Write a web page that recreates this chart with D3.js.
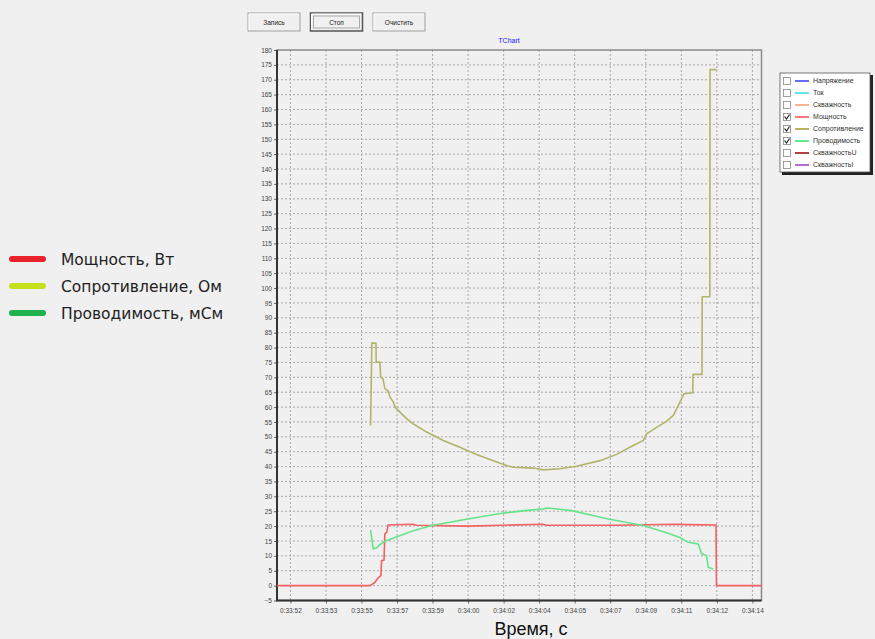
<!DOCTYPE html>
<html>
<head>
<meta charset="utf-8">
<script src="https://cdn.jsdelivr.net/npm/d3@7"></script>
<style>
    body { margin: 0; background: #f0f0f0; }
    svg { display: block; font-family: "Liberation Sans", Arial, sans-serif; }
</style>
</head>
<body>
<div id="chart"></div>
<script>
// data: time in seconds after 0:33:00
var xTickLabels = ["0:33:52", "0:33:53", "0:33:55", "0:33:57", "0:33:59", "0:34:00", "0:34:02",
    "0:34:04", "0:34:05", "0:34:07", "0:34:09", "0:34:11", "0:34:12", "0:34:14"];

var powerT = [51.55, 56.05, 56.29, 56.45, 56.58, 56.61, 56.73, 56.77, 56.86, 56.93, 58.13, 58.3, 60.79, 62.5, 64.42, 64.6, 68.0, 70.81, 71.44, 72.8, 72.82, 75.0];
var powerV = [0, 0, 1.1, 2.6, 3.4, 8.4, 8.6, 17.4, 17.9, 20.4, 20.6, 20.3, 20.0, 20.3, 20.6, 20.3, 20.3, 20.6, 20.5, 20.4, 0, 0];

var resistT = [56.08, 56.14, 56.34, 56.35, 56.53, 56.57, 56.68, 56.77, 56.92, 57.02, 57.18, 57.26, 57.5, 57.82, 58.14, 58.79, 59.6, 60.4, 61.21, 62.02, 62.66, 62.98, 63.95, 64.44, 65.24, 66.05, 67.18, 67.99, 68.79, 69.28, 69.44, 69.92, 70.41, 70.73, 71.05, 71.25, 71.67, 71.69, 72.12, 72.13, 72.5, 72.51, 72.83];
var resistV = [53.8, 81.5, 81.5, 75.1, 75.1, 70.1, 69.5, 66.2, 65.5, 63.3, 61.7, 60.0, 58.3, 56.1, 54.4, 51.6, 48.8, 46.5, 44.1, 42.0, 40.4, 39.8, 39.5, 38.9, 39.3, 40.1, 42.0, 44.1, 47.1, 48.8, 51.0, 53.2, 55.3, 57.2, 61.7, 64.5, 64.8, 71.0, 71.0, 97.1, 97.1, 173.4, 173.4];

var conductT = [56.08, 56.21, 56.37, 56.53, 56.77, 57.26, 58.07, 59.03, 60.65, 62.42, 63.55, 64.44, 64.68, 65.81, 67.58, 69.28, 70.33, 71.05, 71.45, 71.94, 72.1, 72.34, 72.42, 72.66];
var conductV = [18.7, 12.3, 12.7, 13.8, 14.9, 16.2, 18.3, 20.2, 22.2, 24.3, 25.2, 25.8, 26.1, 25.2, 22.4, 20.2, 17.9, 16.2, 14.6, 14.0, 10.7, 10.1, 6.2, 5.6];

var buttonLabels = ["Запись", "Стоп", "Очистить"];
var legendNames = ["Напряжение", "Ток", "Скважность", "Мощность", "Сопротивление", "Проводимость", "СкважностьU", "СкважностьI"];
var legendColors = ["#4646ff", "#3ee0e0", "#ffa276", "#ff5a5a", "#a3a33e", "#3ee07e", "#a01010", "#a848c8"];
var legendChecked = [false, false, false, true, true, true, false, false];

var sideNames = ["Мощность, Вт", "Сопротивление, Ом", "Проводимость, мСм"];
var sideColors = ["#e8212a", "#c3e01a", "#1fb14b"];

(function () {
    var width = 875, height = 639;
    var svg = d3.select("#chart").append("svg").attr("width", width).attr("height", height);

    // compute scales
    var left = 277, right = 761.5, top = 50, bottom = 600.5;
    var x = d3.scaleLinear().domain([51.55, 75.0]).range([left, right]);
    var y = d3.scaleLinear().domain([-5, 180]).range([bottom, top]);
    var xTicks = xTickLabels.map(function (d, i) { return 52.2 + i * 1.72; });
    var yTicks = d3.range(-5, 181, 5);

    // buttons
    var btn = svg.selectAll(".btn").data(buttonLabels).enter().append("g").attr("class", "btn").attr("transform", function (d, i) {
        return "translate(" + (248 + i * 62.5) + ",13)";
    });
    btn.append("rect").attr("width", 52).attr("height", 18).attr("fill", "#f0f0f0").attr("stroke", function (d, i) {
        return i === 1 ? "#555" : "#a0a0a0";
    }).attr("stroke-width", function (d, i) { return i === 1 ? 1.5 : 1; });
    btn.append("path").attr("d", "M1,17V1H51").attr("fill", "none").attr("stroke", "#fff");
    btn.filter(function (d, i) { return i === 1; }).append("rect").attr("x", 3).attr("y", 3).attr("width", 46).attr("height", 12)
        .attr("fill", "none").attr("stroke", "#999").attr("stroke-width", 0.8);
    btn.append("text").attr("x", 26).attr("y", 12).attr("text-anchor", "middle").attr("font-size", 6.5).attr("fill", "#222").text(String);

    // title
    svg.append("text").attr("x", 509).attr("y", 43).attr("text-anchor", "middle").attr("font-size", 7).attr("fill", "#2020ff").text("TChart");

    // grid
    svg.append("g").selectAll("line").data(yTicks.slice(1, -1)).enter().append("line")
        .attr("x1", left).attr("x2", right).attr("y1", y).attr("y2", y)
        .attr("stroke", "#a8a8a8").attr("stroke-dasharray", "2,2");
    svg.append("g").selectAll("line").data(xTicks).enter().append("line")
        .attr("x1", x).attr("x2", x).attr("y1", top).attr("y2", bottom)
        .attr("stroke", "#a8a8a8").attr("stroke-dasharray", "2,2");

    // axes
    var yAxis = svg.append("g").attr("transform", "translate(" + left + ",0)")
        .call(d3.axisLeft(y).tickValues(yTicks).tickSize(3).tickPadding(2));
    var xAxis = svg.append("g").attr("transform", "translate(0," + bottom + ")")
        .call(d3.axisBottom(x).tickValues(xTicks).tickSize(3).tickPadding(5).tickFormat(function (d, i) { return xTickLabels[i]; }));
    [yAxis, xAxis].forEach(function (a) {
        a.select(".domain").remove();
        a.selectAll("line").attr("stroke", "#666");
        a.selectAll("text").attr("font-size", 6.5).attr("fill", "#444").attr("font-family", "Liberation Sans, Arial, sans-serif");
    });

    // frame
    svg.append("rect").attr("x", left).attr("y", top).attr("width", right - left).attr("height", bottom - top)
        .attr("fill", "none").attr("stroke", "#8a8a8a").attr("stroke-width", 1.5);
    svg.append("path").attr("d", "M" + left + "," + top + "V" + bottom + "H" + right)
        .attr("fill", "none").attr("stroke", "#333").attr("stroke-width", 2);

    // series
    var line = d3.line().x(function (d) { return x(d[0]); }).y(function (d) { return y(d[1]); });
    var series = [
        { t: powerT, v: powerV, color: "#f46060" },
        { t: conductT, v: conductV, color: "#66e48a" },
        { t: resistT, v: resistV, color: "#b2b46a" }
    ];
    svg.append("g").selectAll("path").data(series).enter().append("path")
        .attr("d", function (s) { return line(d3.zip(s.t, s.v)); })
        .attr("fill", "none").attr("stroke", function (s) { return s.color; }).attr("stroke-width", 1.6);

    // chart legend
    var lg = svg.append("g").attr("transform", "translate(780,73)");
    lg.append("rect").attr("x", 2).attr("y", 2).attr("width", 91).attr("height", 100).attr("fill", "#222");
    lg.append("rect").attr("width", 90).attr("height", 99).attr("fill", "#fff").attr("stroke", "#555").attr("stroke-width", 0.8);
    var item = lg.selectAll(".item").data(legendNames).enter().append("g").attr("class", "item").attr("transform", function (d, i) {
        return "translate(0," + (8 + i * 12) + ")";
    });
    item.append("rect").attr("x", 3.5).attr("y", -3.5).attr("width", 7).attr("height", 7).attr("fill", "#fff").attr("stroke", "#888").attr("stroke-width", 0.8);
    item.filter(function (d, i) { return legendChecked[i]; }).append("path").attr("d", "M4.5,-0.5L6.5,2L9.5,-2.5")
        .attr("fill", "none").attr("stroke", "#222").attr("stroke-width", 1.2);
    item.append("line").attr("x1", 15).attr("x2", 29).attr("stroke", function (d, i) { return legendColors[i]; }).attr("stroke-width", 1.6);
    item.append("text").attr("x", 33).attr("y", 2.4).attr("font-size", 7).attr("fill", "#333").text(String);

    // side legend
    var side = svg.selectAll(".side").data(sideNames).enter().append("g").attr("class", "side").attr("transform", function (d, i) {
        return "translate(0," + (259 + i * 27) + ")";
    });
    side.append("line").attr("x1", 12).attr("x2", 43).attr("stroke", function (d, i) { return sideColors[i]; })
        .attr("stroke-width", 6).attr("stroke-linecap", "round");
    side.append("text").attr("x", 61).attr("y", 5.5).attr("font-size", 15.5).attr("font-family", "DejaVu Sans, sans-serif")
        .attr("fill", "#222").text(String);

    // x title
    svg.append("text").attr("x", 531).attr("y", 635).attr("text-anchor", "middle").attr("font-size", 18).attr("fill", "#111").text("Время, с");
})();
</script>
</body>
</html>
